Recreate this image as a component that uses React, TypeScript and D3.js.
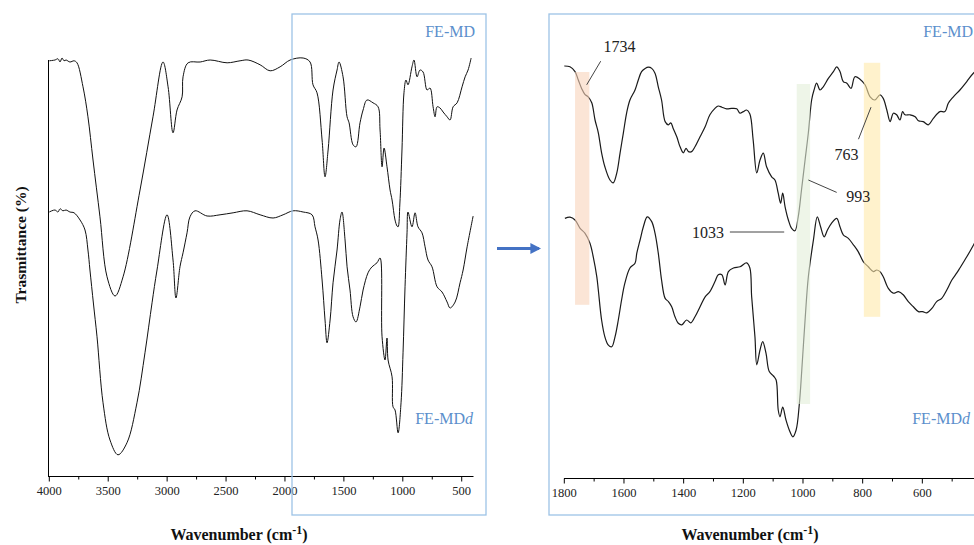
import React from "react"
import * as d3 from "d3"

const W = 974
const H = 545

// full spectrum (left panel), [wavenumber, transmittance a.u.]
const fullMD: [number, number][] = [
  [4000, 103.8], [3952, 104], [3926, 104.3], [3909, 103.5], [3892, 104.5], [3875, 103.8],
  [3858, 104], [3825, 103.5], [3790, 103.8], [3765, 103.3], [3714, 97.3], [3672, 89.8],
  [3629, 79], [3570, 64.8], [3510, 49.8], [3442, 45], [3374, 49.8], [3230, 71.5],
  [3120, 89.8], [3035, 103.5], [2992, 97.3], [2950, 85.8], [2916, 91.5], [2873, 94.8],
  [2865, 99.8], [2822, 103.3], [2720, 103.5], [2635, 104], [2491, 103.3], [2381, 103.8],
  [2313, 104], [2211, 102.8], [2126, 101.3], [2041, 102.3], [1956, 104], [1846, 104.5],
  [1787, 103.5], [1762, 97.8], [1728, 95.8], [1685, 84], [1660, 74.8], [1634, 81.5],
  [1592, 96.5], [1558, 101.5], [1541, 103.5], [1507, 99.8], [1473, 89.8], [1456, 88.3],
  [1422, 82.8], [1397, 82.3], [1363, 88.3], [1337, 91.5], [1304, 94], [1253, 93.3],
  [1210, 92.3], [1193, 86.5], [1176, 77.3], [1159, 82], [1134, 77.3], [1108, 71.5],
  [1091, 69], [1066, 64], [1049, 62.5], [1040, 62.3], [1025, 68], [1007, 81.5], [990, 95.8],
  [973, 99], [956, 97.8], [922, 102.3], [905, 104], [879, 99.8], [854, 101.5], [828, 101],
  [794, 96.5], [769, 97], [743, 92.3], [726, 89.8], [709, 92.3], [684, 92], [658, 91],
  [624, 89.8], [599, 89], [573, 92.3], [539, 93.3], [497, 97.3], [471, 99.8], [446, 101.5],
  [420, 104.5],
]

const fullMDd: [number, number][] = [
  [4000, 66], [3952, 66.5], [3926, 66], [3909, 66.8], [3884, 66.3], [3858, 66.5], [3825, 66],
  [3790, 65.8], [3739, 64], [3697, 61.5], [3672, 56.5], [3655, 51.5], [3625, 43], [3595, 34.8],
  [3544, 18.3], [3485, 9], [3417, 5.3], [3341, 8.3], [3256, 18.3], [3188, 30.8], [3128, 43.3],
  [3086, 51.5], [3001, 65.3], [2950, 54], [2925, 44.5], [2891, 52.3], [2865, 55.8],
  [2831, 60.8], [2806, 64.8], [2763, 66.3], [2661, 65], [2551, 65.3], [2440, 65.8],
  [2322, 66.3], [2211, 65.3], [2101, 64.5], [2016, 65.3], [1931, 66.3], [1846, 66],
  [1770, 65.3], [1745, 62.3], [1719, 59], [1685, 49], [1660, 39], [1643, 33.3], [1617, 39],
  [1592, 48.3], [1558, 56.5], [1533, 64], [1516, 66], [1490, 59], [1473, 52.3], [1448, 46.5],
  [1422, 39.8], [1397, 38.5], [1363, 42.3], [1337, 46.5], [1295, 50.8], [1261, 52.3],
  [1219, 53.3], [1193, 54.5], [1176, 34.8], [1151, 29], [1134, 34.5], [1125, 29],
  [1091, 24.8], [1083, 17.3], [1066, 16.5], [1040, 10.8], [1015, 18.3], [998, 30.8],
  [981, 47.3], [964, 60.8], [956, 66], [922, 62.3], [896, 65.8], [871, 62.3], [837, 60.8],
  [811, 57.3], [786, 54], [752, 52.3], [709, 47.3], [667, 46], [624, 43.5], [599, 42],
  [556, 43.5], [514, 48.3], [488, 51.5], [454, 57.3], [403, 65],
]

// fingerprint region (right panel)
const zoomMD: [number, number][] = [
  [1800, 103], [1781, 102.8], [1764, 101.6], [1753, 99.5], [1742, 97.4], [1731, 95.9],
  [1720, 95.3], [1708, 93.8], [1697, 89.5], [1686, 86.3], [1675, 81.3], [1664, 77.8],
  [1647, 74.5], [1636, 73.8], [1624, 76.3], [1613, 81.3], [1602, 86.3], [1591, 91.3],
  [1580, 94.5], [1563, 97], [1552, 99.5], [1541, 101.6], [1529, 102.4], [1518, 102.7],
  [1507, 102.4], [1496, 101.2], [1485, 97.8], [1474, 94.5], [1462, 89.1], [1451, 88.3],
  [1443, 88.8], [1435, 87.4], [1423, 85.3], [1412, 82.8], [1401, 81.3], [1392, 82.4],
  [1384, 81.6], [1373, 81.6], [1362, 82.8], [1345, 85.3], [1328, 87.8], [1312, 90.8],
  [1295, 92.4], [1284, 93], [1272, 92.7], [1256, 92.3], [1239, 92.4], [1222, 92.3],
  [1211, 91.2], [1200, 91.6], [1189, 92], [1178, 91], [1167, 84.5], [1155, 76.3],
  [1144, 79.5], [1133, 81.2], [1122, 77.8], [1105, 75.3], [1094, 74.5], [1083, 71.2],
  [1075, 68.7], [1068, 71.2], [1060, 67.8], [1049, 64.5], [1038, 62.4], [1027, 61.8],
  [1016, 65.3], [1005, 72], [993, 79.5], [982, 86.3], [971, 94.5], [963, 97], [954, 98.7],
  [943, 97], [932, 97.8], [915, 99.9], [898, 101.6], [887, 102.8], [876, 101.6], [865, 99.1],
  [853, 98.7], [839, 97.4], [826, 100.3], [809, 99.7], [792, 98.3], [775, 95.3], [759, 94.5],
  [742, 95.8], [731, 94.9], [719, 92], [708, 89.1], [697, 91.2], [686, 90.8], [675, 89.5],
  [666, 91.6], [658, 90.8], [641, 90.8], [624, 90.3], [613, 89.3], [597, 89.1], [580, 88.3],
  [563, 89.9], [541, 91.6], [524, 91.6], [513, 93.7], [496, 95.3], [474, 97], [451, 99.1],
  [429, 101.2], [406, 102.5],
]

const zoomMDd: [number, number][] = [
  [1798, 64.9], [1781, 65.2], [1764, 64.5], [1747, 62.4], [1731, 61.2], [1714, 58.7],
  [1703, 55.3], [1691, 50.3], [1686, 47], [1675, 39.5], [1664, 35.3], [1653, 33.3],
  [1641, 32.8], [1630, 35.3], [1619, 39.5], [1608, 44.5], [1597, 48.7], [1580, 52.5],
  [1563, 53.7], [1557, 56.2], [1546, 59.5], [1535, 62.8], [1522, 65.3], [1507, 64.1],
  [1496, 61.2], [1485, 56.2], [1477, 51.2], [1474, 49.5], [1462, 44.9], [1451, 44.1],
  [1440, 42.8], [1429, 40.3], [1418, 38.7], [1406, 38.3], [1390, 39.5], [1376, 38.8],
  [1362, 40.3], [1345, 42.8], [1328, 45.3], [1312, 46.6], [1295, 49.1], [1284, 50.8],
  [1272, 50.8], [1261, 48.3], [1250, 51.6], [1233, 52.5], [1211, 52.8], [1189, 53.8],
  [1178, 52.5], [1172, 45.3], [1161, 35.3], [1155, 28.3], [1144, 32], [1135, 34.1],
  [1124, 31.2], [1113, 26.6], [1099, 25.5], [1090, 24.5], [1083, 17], [1077, 15.3],
  [1068, 17.7], [1057, 14.5], [1046, 12], [1034, 10.3], [1023, 12], [1012, 18.7],
  [1004, 27], [993, 39.5], [982, 50.3], [965, 59.5], [952, 65.3], [941, 62.8], [929, 60.3],
  [918, 62], [904, 63.7], [887, 64.9], [876, 62.8], [865, 60.8], [848, 59.9], [831, 58.3],
  [815, 56.6], [798, 54.1], [781, 52.8], [764, 51.6], [753, 52], [742, 51.6], [731, 50.3],
  [714, 47.4], [697, 46.2], [680, 46.6], [664, 45.8], [647, 44.1], [630, 42.8], [613, 41.6],
  [599, 41.6], [585, 41.3], [568, 42.4], [552, 44.1], [535, 44.9], [518, 47], [501, 49.5],
  [485, 51.2], [474, 52.5], [451, 55.3], [429, 58.2], [406, 61.5],
]

const fullTicks = [4000, 3500, 3000, 2500, 2000, 1500, 1000, 500]
const fullMinor = [3750, 3250, 2750, 2250, 1750, 1250, 750]
const zoomTicks = [1800, 1600, 1400, 1200, 1000, 800, 600]
const zoomMinor = [1700, 1500, 1300, 1100, 900, 700, 500]

// highlighted bands: [from, to, top, bottom, color]
const bands: [number, number, number, number, string][] = [
  [1764, 1716, 101.5, 43.3, "#f8d4bb"],
  [1021, 976, 98.5, 18.5, "#e3eed9"],
  [796, 741, 103.8, 40.3, "#ffe9aa"],
]

// peak labels: text, label pos, leader line from -> to
const peaks = [
  { text: "1734", wn: 1615, t: 108, line: [[1678, 104.2], [1725, 98.3]] },
  { text: "1033", wn: 1318, t: 61.5, line: [[1245, 61.5], [1063, 61.5]] },
  { text: "993", wn: 815, t: 70.5, line: [[887, 71.4], [982, 74.5]] },
  { text: "763", wn: 854, t: 81, line: [[814, 84.7], [772, 92.7]] },
]

const serif = "'Liberation Serif', 'Times New Roman', serif"
const boxBlue = "#9dc3e6"
const textBlue = "#5b8fcc"

export default function App() {
  const xFull = d3.scaleLinear().domain([4000, 400]).range([49.3, 473.5])
  const yFull = d3.scaleLinear().domain([0, 104]).range([476, 60])
  const xZoom = d3.scaleLinear().domain([1800, 400]).range([564.3, 982])
  const yZoom = d3.scaleLinear().domain([0, 104]).range([478, 62])

  const smooth = d3.curveCatmullRom.alpha(0.5)
  const lineFull = d3.line<[number, number]>().x((d) => xFull(d[0])).y((d) => yFull(d[1])).curve(smooth)
  const lineZoom = d3.line<[number, number]>().x((d) => xZoom(d[0])).y((d) => yZoom(d[1])).curve(smooth)

  const axisY1 = 476.5
  const axisY2 = 478.5

  return (
    <svg
      width={W}
      height={H}
      style={{ position: "absolute", left: 0, top: 0, background: "#fff" }}
      fontFamily={serif}
    >
      <defs>
        <marker id="arr" viewBox="0 0 10 10" refX="8" refY="5" markerWidth="3.6" markerHeight="3.6" orient="auto">
          <path d="M0,0 L10,5 L0,10 z" fill="#4472c4" />
        </marker>
      </defs>

      {/* left panel */}
      <line x1={48.5} x2={48.5} y1={60} y2={axisY1} stroke="#000" />
      <line x1={48} x2={473.5} y1={axisY1} y2={axisY1} stroke="#000" />
      {fullTicks.map((v) => (
        <g key={v} transform={`translate(${xFull(v)},${axisY1})`}>
          <line y2={5} stroke="#000" />
          <text y={18} textAnchor="middle" fontSize={12.5} fill="#222">{v}</text>
        </g>
      ))}
      {fullMinor.map((v) => (
        <line key={v} x1={xFull(v)} x2={xFull(v)} y1={axisY1} y2={axisY1 + 3} stroke="#000" />
      ))}
      <path d={lineFull(fullMD) ?? ""} fill="none" stroke="#111" strokeWidth={1} />
      <path d={lineFull(fullMDd) ?? ""} fill="none" stroke="#111" strokeWidth={1} />
      <rect x={292} y={14} width={194} height={501} fill="none" stroke={boxBlue} strokeWidth={1.3} />
      <text x={475} y={37} textAnchor="end" fontSize={16} fill={textBlue}>FE-MD</text>
      <text x={473} y={424} textAnchor="end" fontSize={16} fill={textBlue}>
        FE-MD<tspan fontStyle="italic">d</tspan>
      </text>
      <text
        transform="translate(26,245) rotate(-90)"
        textAnchor="middle"
        fontSize={15.5}
        fontWeight="bold"
        fill="#111"
      >
        Trasmittance (%)
      </text>
      <text x={239} y={540} textAnchor="middle" fontSize={16} fontWeight="bold" fill="#111">
        Wavenumber (cm<tspan fontSize={12} dy={-6}>-1</tspan><tspan dy={6}>)</tspan>
      </text>

      {/* arrow */}
      <line x1={497} x2={539} y1={248.5} y2={248.5} stroke="#4472c4" strokeWidth={3} markerEnd="url(#arr)" />

      {/* right panel */}
      <line x1={564} x2={W} y1={axisY2} y2={axisY2} stroke="#000" />
      {zoomTicks.map((v) => (
        <g key={v} transform={`translate(${xZoom(v)},${axisY2})`}>
          <line y2={5} stroke="#000" />
          <text y={18} textAnchor="middle" fontSize={12.5} fill="#222">{v}</text>
        </g>
      ))}
      {zoomMinor.map((v) => (
        <line key={v} x1={xZoom(v)} x2={xZoom(v)} y1={axisY2} y2={axisY2 + 3} stroke="#000" />
      ))}
      <path d={lineZoom(zoomMD) ?? ""} fill="none" stroke="#1a1a1a" strokeWidth={1.2} />
      <path d={lineZoom(zoomMDd) ?? ""} fill="none" stroke="#1a1a1a" strokeWidth={1.2} />
      {bands.map(([a, b, top, bot, c], i) => (
        <rect
          key={i}
          x={xZoom(a)}
          width={xZoom(b) - xZoom(a)}
          y={yZoom(top)}
          height={yZoom(bot) - yZoom(top)}
          fill={c}
          opacity={0.6}
        />
      ))}
      {peaks.map((p) => (
        <g key={p.text}>
          <line
            x1={xZoom(p.line[0][0])}
            y1={yZoom(p.line[0][1])}
            x2={xZoom(p.line[1][0])}
            y2={yZoom(p.line[1][1])}
            stroke="#444"
            strokeWidth={1}
          />
          <text x={xZoom(p.wn)} y={yZoom(p.t)} dy="0.35em" textAnchor="middle" fontSize={16} fill="#222">
            {p.text}
          </text>
        </g>
      ))}
      <rect x={549} y={14} width={440} height={501} fill="none" stroke={boxBlue} strokeWidth={1.3} />
      <text x={973} y={37} textAnchor="end" fontSize={16} fill={textBlue}>FE-MD</text>
      <text x={970} y={424} textAnchor="end" fontSize={16} fill={textBlue}>
        FE-MD<tspan fontStyle="italic">d</tspan>
      </text>
      <text x={750} y={540} textAnchor="middle" fontSize={16} fontWeight="bold" fill="#111">
        Wavenumber (cm<tspan fontSize={12} dy={-6}>-1</tspan><tspan dy={6}>)</tspan>
      </text>
    </svg>
  )
}
